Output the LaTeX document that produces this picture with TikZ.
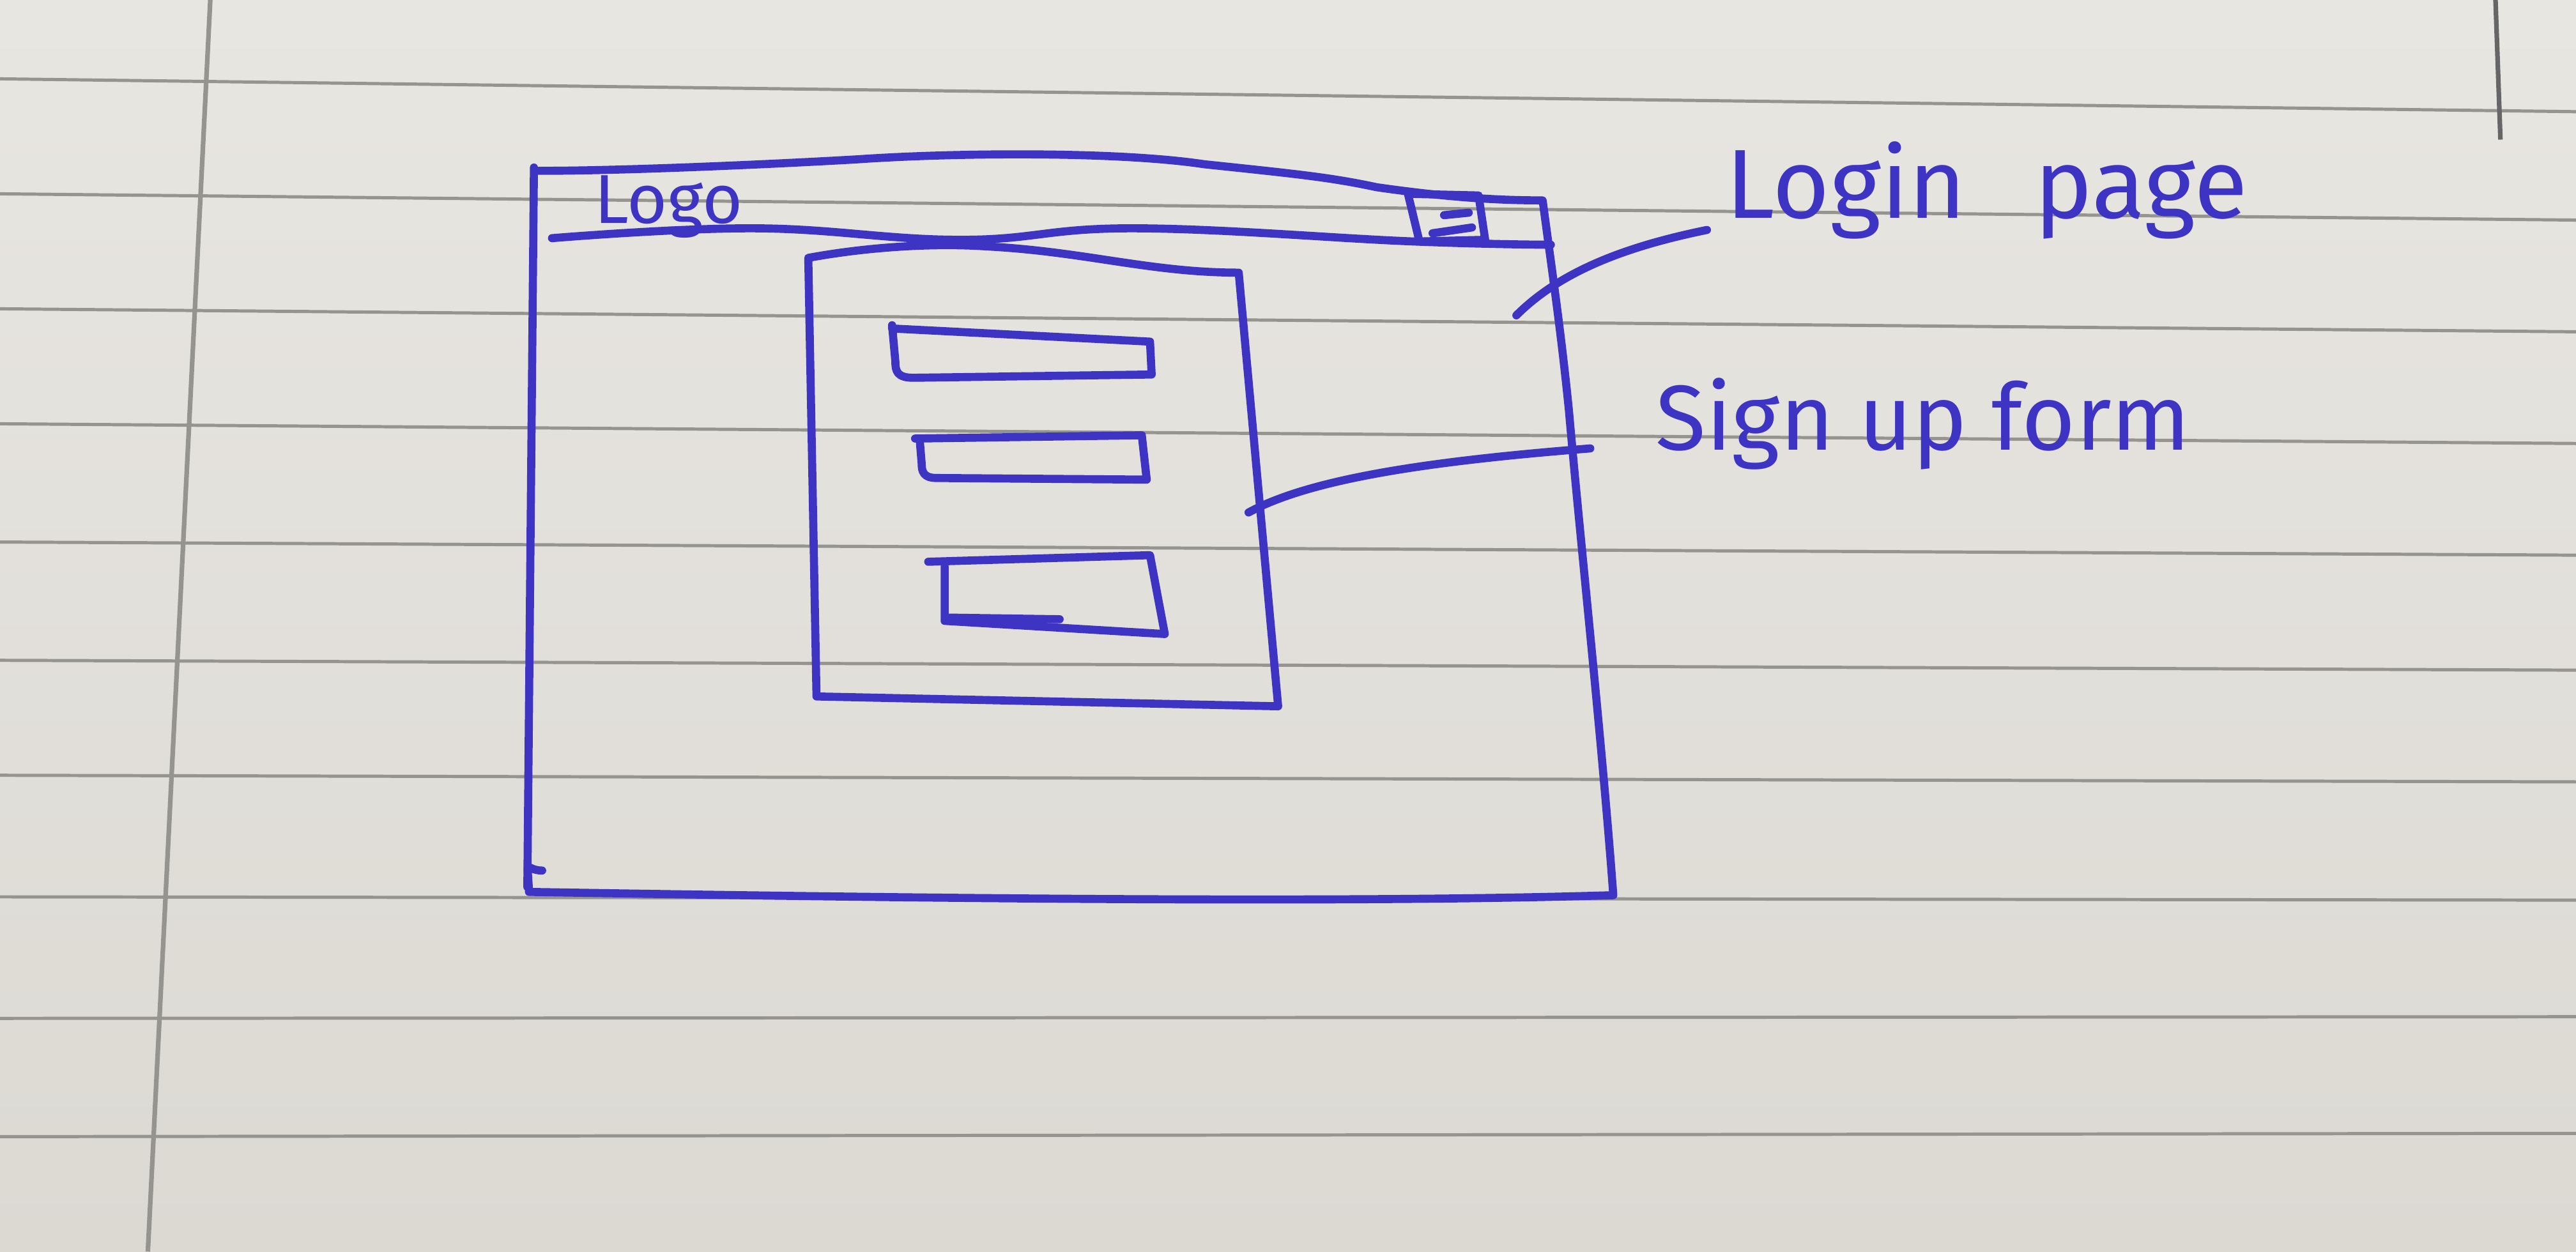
\documentclass[tikz,border=0pt]{standalone}
\usepackage{fontspec}
\newfontfamily\hand{Fira Sans}
\definecolor{ink}{RGB}{62,52,196}
\definecolor{papertop}{RGB}{232,230,225}
\definecolor{paperbot}{RGB}{220,217,211}
\definecolor{rulegray}{RGB}{150,148,142}
\begin{document}
\begin{tikzpicture}[x=0.1mm,y=-0.1mm,
  pen/.style={ink, line width=1.4pt, line cap=round, line join=round},
  ruleline/.style={rulegray, line width=0.55pt},
  handtext/.style={ink, inner sep=0pt, anchor=base west}]
\useasboundingbox (0,0) rectangle (1568,762);
\shade[top color=papertop, bottom color=paperbot] (0,0) rectangle (1568,762);
% ruled lines of the notebook
\foreach \a/\b in {48/68,118/134,188/202,258/270,330/338,402/408,472/476,546/548,620/619,692/690}
  \draw[ruleline] (0,\a) -- (1568,\b);
% margin line
\draw[ruleline, line width=0.8pt] (128,0) -- (90,762);
% page edge at right
\draw[black!60, line width=0.8pt] (1519,0) -- (1522,85);

% ---------- outer page (login page) ----------
\draw[pen] (328,104) .. controls (380,104) and (470,100) .. (522,97)
  .. controls (580,93) and (680,92) .. (733,100)
  .. controls (790,106) and (810,108) .. (838,114)
  .. controls (880,120) and (910,122) .. (939,122)
  .. controls (944,160) and (950,200) .. (955,250)
  .. controls (962,330) and (975,450) .. (982,545)
  .. controls (820,550) and (560,547) .. (322,543)
  .. controls (321,520) and (319,530) .. (330,530);
\draw[pen] (325,102) -- (321,540);
% header line
\draw[pen] plot[smooth, tension=0.7] coordinates {(336,145) (459,139) (585,146) (691,139) (860,147) (944,149)};
% menu icon
\draw[pen] (857,118) -- (900,119) -- (904,146) -- (864,147) -- cycle;
\draw[pen] (879,131) -- (894,129.5);
\draw[pen] (872,142) -- (896,138.5);
% logo
\node[handtext, font=\hand\fontsize{12}{14}\selectfont] (logo) at (361,136) {Logo};

% ---------- sign up form ----------
\draw[pen] (497,424) -- (492,157)
  .. controls (530,150) and (570,148) .. (600,150)
  .. controls (660,153) and (700,166) .. (754,166)
  -- (778,430) -- (497,424);
% field 1
\draw[pen] (543,200) -- (700,208) -- (701,228) -- (556,230)
  .. controls (546,230) and (545,226) .. (545,220) -- (543,198);
% field 2
\draw[pen] (557,267) -- (695,265) -- (698,292) -- (570,291)
  .. controls (562,291) and (561,287) .. (561,282) -- (560,270);
% field 3 (button)
\draw[pen] (565,342) -- (700,338) -- (709,386) -- (575,378) -- (575,345);
\draw[pen] (577,376) -- (645,377);

% ---------- labels ----------
\node[handtext, font=\hand\fontsize{17}{20}\selectfont] (loginlabel) at (1050,133) {Login\hspace{0.7em}page};
\node[handtext, font=\hand\fontsize{16}{19}\selectfont] (signuplabel) at (1007,274) {Sign up form};

% ---------- pointers ----------
\coordinate (lpstart) at (923,192);
\coordinate (lpend) at (1039,140);
\draw[pen] (lpstart) .. controls (950,165) and (990,150) .. (lpend);
\coordinate (sfstart) at (760,312);
\coordinate (sfend) at (968,273);
\draw[pen] (sfstart) .. controls (800,290) and (880,280) .. (sfend);
\end{tikzpicture}
\end{document}
